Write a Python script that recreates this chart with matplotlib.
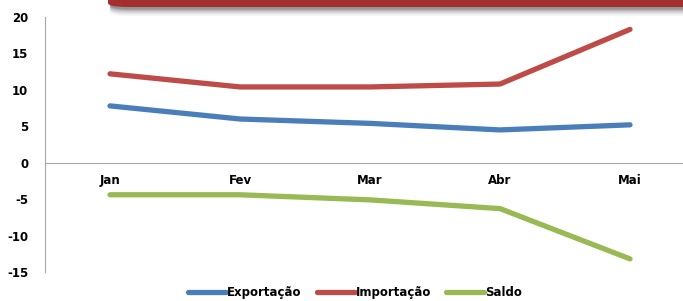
import matplotlib.pyplot as plt
from matplotlib.patches import FancyBboxPatch

plt.rcParams["axes.unicode_minus"] = False

# monthly values (bilhões)
months = ["Jan", "Fev", "Mar", "Abr", "Mai"]
exportacao = [7.8, 6.0, 5.4, 4.5, 5.2]
importacao = [12.2, 10.4, 10.4, 10.8, 18.3]
saldo = [-4.4, -4.4, -5.1, -6.3, -13.2]

fig = plt.figure(figsize=(6.83, 3.01), dpi=100)
ax = fig.add_axes([45 / 683, 29 / 301, 650 / 683, 255 / 301])

x = range(len(months))
ax.plot(x, exportacao, color="#4a7ebb", lw=3.8, solid_capstyle="round", label="Exportação")
ax.plot(x, importacao, color="#be4b48", lw=3.8, solid_capstyle="round", label="Importação")
ax.plot(x, saldo, color="#98b954", lw=3.8, solid_capstyle="round", label="Saldo")

ax.set_xlim(-0.5, 4.5)
ax.set_ylim(-15, 20)
ax.set_yticks(range(-15, 21, 5))
ax.set_xticks(list(x))
ax.set_xticklabels(months)

# axis lines: grey, x-axis crossing at zero
for side in ["top", "right"]:
    ax.spines[side].set_visible(False)
ax.spines["bottom"].set_position(("data", 0))
ax.spines["left"].set_color("#a6a6a6")
ax.spines["bottom"].set_color("#a6a6a6")
ax.tick_params(length=0, labelsize=8.5)
ax.tick_params(axis="y", pad=12)
ax.tick_params(axis="x", pad=8)
for lbl in ax.get_xticklabels() + ax.get_yticklabels():
    lbl.set_fontweight("bold")

# red banner cut off at top, with a soft shadow
for i, a in enumerate([0.04, 0.06, 0.09, 0.13, 0.18]):
    off = (5 - i) * 1.6
    fig.patches.append(FancyBboxPatch((110 / 683, 1 - (8 + off) / 301), 0.9, 0.1,
                                      boxstyle="round,pad=0,rounding_size=0.03",
                                      transform=fig.transFigure, fc="black", ec="none",
                                      alpha=a, mutation_aspect=301 / 683))
fig.patches.append(FancyBboxPatch((108 / 683, 1 - 7 / 301), 0.9, 0.1,
                                  boxstyle="round,pad=0,rounding_size=0.03",
                                  transform=fig.transFigure, fc="#a3302f", ec="none",
                                  mutation_aspect=301 / 683))

leg = fig.legend(loc="center", bbox_to_anchor=(0.52, 0.027), ncol=3, frameon=False,
                 fontsize=8.5, handlelength=3.2, handletextpad=0.1, columnspacing=1.3)
for t in leg.get_texts():
    t.set_fontweight("bold")

fig.savefig("out.png", dpi=100)
